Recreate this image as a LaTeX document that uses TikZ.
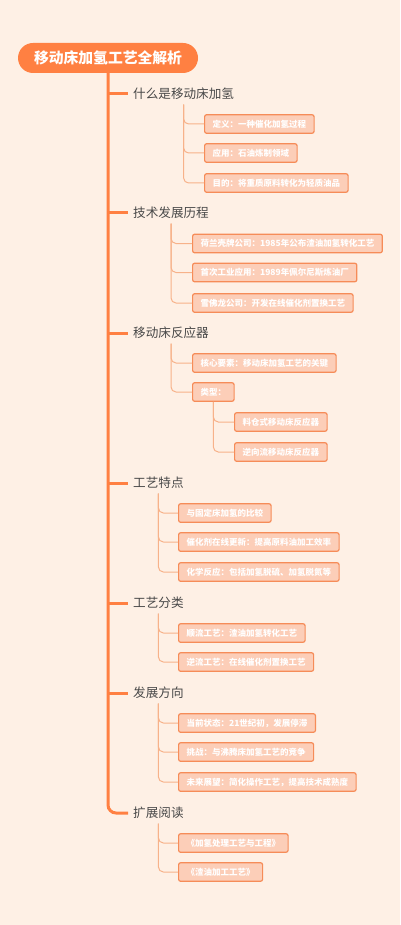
\documentclass[tikz,border=0pt]{standalone}
\usepackage{fontspec}
\setmainfont{Noto Sans CJK SC}
\definecolor{paper}{RGB}{254,240,229}
\definecolor{trunkc}{RGB}{255,128,66}
\definecolor{leaffill}{RGB}{252,206,184}
\definecolor{leafdraw}{RGB}{246,140,88}
\definecolor{twigc}{RGB}{247,178,138}
\definecolor{topic}{RGB}{72,72,72}
\begin{document}
\begin{tikzpicture}[
  x=1pt,y=-1pt,
  rootbox/.style={fill=trunkc,rounded corners=15pt,minimum width=180pt,minimum height=30pt,text=white,font=\fontsize{14.8}{18}\selectfont\bfseries},
  topicbox/.style={anchor=west,inner xsep=5pt,inner ysep=0pt,minimum height=21pt,text=topic,font=\fontsize{12.6}{15}\selectfont},
  leafbox/.style={anchor=west,fill=leaffill,draw=leafdraw,line width=1.2pt,rounded corners=2pt,inner xsep=8pt,inner ysep=0pt,minimum height=18.5pt,text=white,font=\fontsize{8.5}{10}\selectfont\bfseries},
  trunk/.style={draw=trunkc,line width=3pt,rounded corners=8pt},
  twig/.style={draw=twigc,line width=1pt,rounded corners=5pt}
]
  \fill[paper] (0,0) rectangle (400,925);
  \useasboundingbox (0,0) rectangle (400,925);

  \node[rootbox] (root) at (108,58) {移动床加氢工艺全解析};

  \node[topicbox] (what) at (128,94) {什么是移动床加氢};
  \node[topicbox] (hist) at (128,213) {技术发展历程};
  \node[topicbox] (reac) at (128,333) {移动床反应器};
  \node[topicbox] (feat) at (128,483) {工艺特点};
  \node[topicbox] (cls)  at (128,603) {工艺分类};
  \node[topicbox] (dev)  at (128,693) {发展方向};
  \node[topicbox] (read) at (128,813) {扩展阅读};

  \node[leafbox] (what1) at (204,124) {定义：一种催化加氢过程};
  \node[leafbox] (what2) at (204,153) {应用：石油炼制领域};
  \node[leafbox] (what3) at (204,183) {目的：将重质原料转化为轻质油品};

  \node[leafbox] (hist1) at (192,243.5) {荷兰壳牌公司：1985年公布渣油加氢转化工艺};
  \node[leafbox] (hist2) at (192,272.5) {首次工业应用：1989年佩尔尼斯炼油厂};
  \node[leafbox] (hist3) at (192,303) {雪佛龙公司：开发在线催化剂置换工艺};

  \node[leafbox] (reac1) at (192,363) {核心要素：移动床加氢工艺的关键};
  \node[leafbox] (reac2) at (192,392) {类型：};
  \node[leafbox] (type1) at (234,422) {料仓式移动床反应器};
  \node[leafbox] (type2) at (234,452) {逆向流移动床反应器};

  \node[leafbox] (feat1) at (178,513) {与固定床加氢的比较};
  \node[leafbox] (feat2) at (178,542) {催化剂在线更新：提高原料油加工效率};
  \node[leafbox] (feat3) at (178,572) {化学反应：包括加氢脱硫、加氢脱氮等};

  \node[leafbox] (cls1) at (178,633) {顺流工艺：渣油加氢转化工艺};
  \node[leafbox] (cls2) at (178,662) {逆流工艺：在线催化剂置换工艺};

  \node[leafbox] (dev1) at (178,723) {当前状态：21世纪初，发展停滞};
  \node[leafbox] (dev2) at (178,752) {挑战：与沸腾床加氢工艺的竞争};
  \node[leafbox] (dev3) at (178,782) {未来展望：简化操作工艺，提高技术成熟度};

  \node[leafbox] (read1) at (178,843) {《加氢处理工艺与工程》};
  \node[leafbox] (read2) at (178,872) {《渣油加工工艺》};

  % main trunk
  \draw[trunk] (root.south) |- (read.west);
  \foreach \t in {what,hist,reac,feat,cls,dev}
    \draw[trunk] (root.south |- \t.west) -- (\t.west);

  % branches
  \foreach \t/\l in {what/what1,what/what2,what/what3,
                     hist/hist1,hist/hist2,hist/hist3,
                     reac/reac1,reac/reac2,reac2/type1,reac2/type2,
                     feat/feat1,feat/feat2,feat/feat3,
                     cls/cls1,cls/cls2,
                     dev/dev1,dev/dev2,dev/dev3,
                     read/read1,read/read2}
    \draw[twig] (\t.south) |- (\l.west);
\end{tikzpicture}
\end{document}
